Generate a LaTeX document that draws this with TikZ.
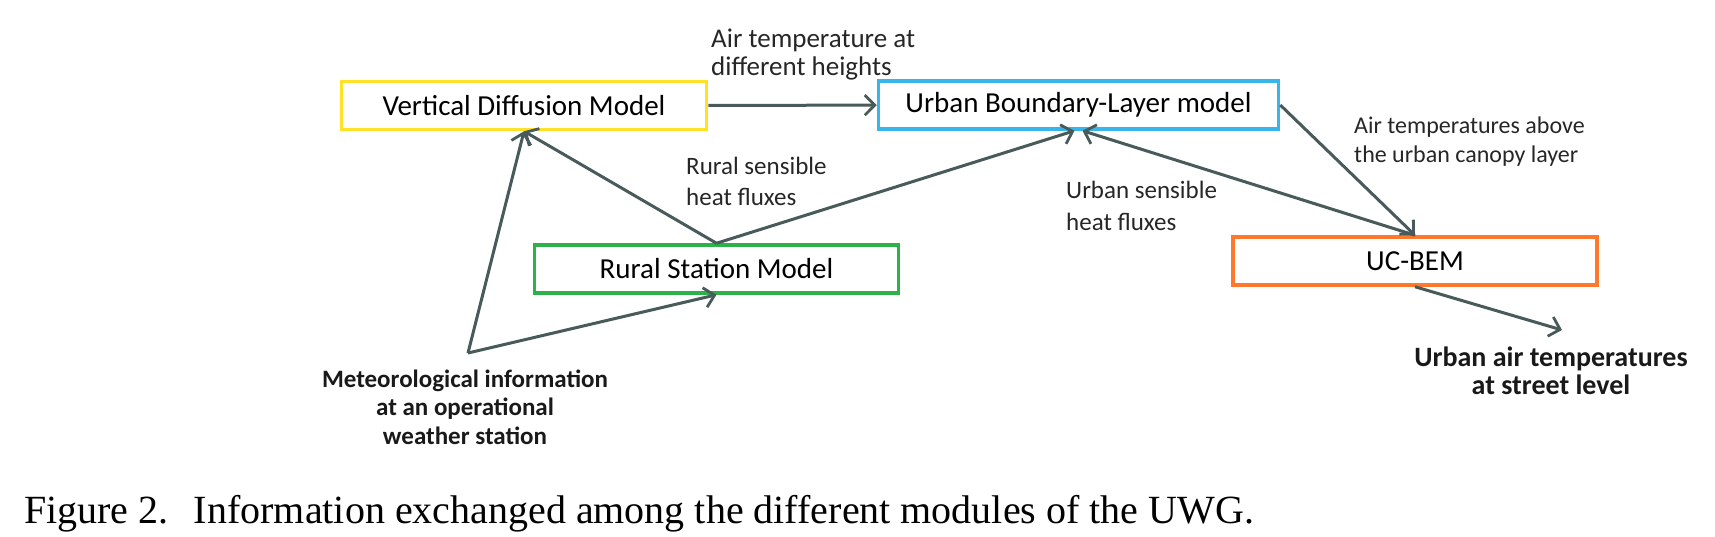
\documentclass[tikz,border=0pt]{standalone}
\usepackage{fontspec}
\setmainfont{Carlito}
\newfontfamily\capfont{Liberation Serif}
\usetikzlibrary{arrows.meta}
\definecolor{vdmyellow}{RGB}{255,226,40}
\definecolor{ublblue}{RGB}{56,182,236}
\definecolor{rsmgreen}{RGB}{44,178,72}
\definecolor{bemorange}{RGB}{255,120,44}
\definecolor{flowgray}{RGB}{72,90,90}
\newcommand{\boxFont}[0]{\fontsize{29}{32}\selectfont}
\newcommand{\lblFont}[0]{\fontsize{25}{28}\selectfont}

\begin{document}
\begin{tikzpicture}[x=1pt, y=-1pt]
  \tikzset{model/.style={draw, line width=3.5pt, minimum width=365pt, minimum height=48pt, inner sep=0pt, font=\boxFont},
           flow/.style={draw=flowgray, line width=3pt, -{Straight Barb[length=10pt, width=20pt, line width=2.8pt]}},
           lbl/.style={inner sep=0pt, align=left, anchor=west, text=black!85},
           outlbl/.style={inner sep=0pt, align=center, font=\fontsize{25}{28.5}\selectfont\bfseries, text=black!90}}
  \useasboundingbox (0,0) rectangle (1715,536);
  \node[model, draw=vdmyellow] (vdm) at (524,105.5) {Vertical Diffusion Model};
  \node[model, draw=ublblue, minimum width=400pt] (ubl) at (1078.5,105) {Urban Boundary-Layer model};
  \node[model, draw=rsmgreen, minimum width=364pt] (rsm) at (716.5,269) {Rural Station Model};
  \node[model, draw=bemorange, minimum width=364pt] (bem) at (1415,261) {UC-BEM};
  \coordinate (met) at (468,353);
  \coordinate (street) at (1562,330);
  \node[outlbl] (met-lbl) at (465,407) {Meteorological information\\at an operational\\weather station};
  \node[outlbl, font=\fontsize{28}{28.5}\selectfont\bfseries] (street-lbl) at (1551,371) {Urban air temperatures\\at street level};
  \node[lbl, font=\fontsize{27}{28}\selectfont] (heights-lbl) at (711,55) {Air temperature at\\different heights};
  \node[lbl, font=\fontsize{25}{31}\selectfont] (rural-lbl) at (686,181.5) {Rural sensible\\heat fluxes};
  \node[lbl, font=\fontsize{25}{32}\selectfont] (urban-lbl) at (1066,206) {Urban sensible\\heat fluxes};
  \node[lbl, font=\fontsize{24}{29}\selectfont] (canopy-lbl) at (1354,141.5) {Air temperatures above\\the urban canopy layer};
  \node[inner sep=0pt, anchor=base west, font=\capfont\fontsize{40}{42}\selectfont] (caption) at (24,523)
    {Figure 2.\hspace{0.3em} Information exchanged among the different modules of the UWG.};
  \draw[flow] (vdm) -- (ubl);
  \draw[flow] (rsm.north) -- (vdm.south);
  \draw[flow] (rsm.north) -- ([xshift=-4pt]ubl.south);
  \draw[flow] (bem.north) -- ([xshift=4pt]ubl.south);
  \draw[flow] (ubl.east) -- (bem.north);
  \draw[flow] (met) -- (vdm.south);
  \draw[flow] (met) -- (rsm.south);
  \draw[flow] (bem.south) -- (street);
\end{tikzpicture}
\end{document}
